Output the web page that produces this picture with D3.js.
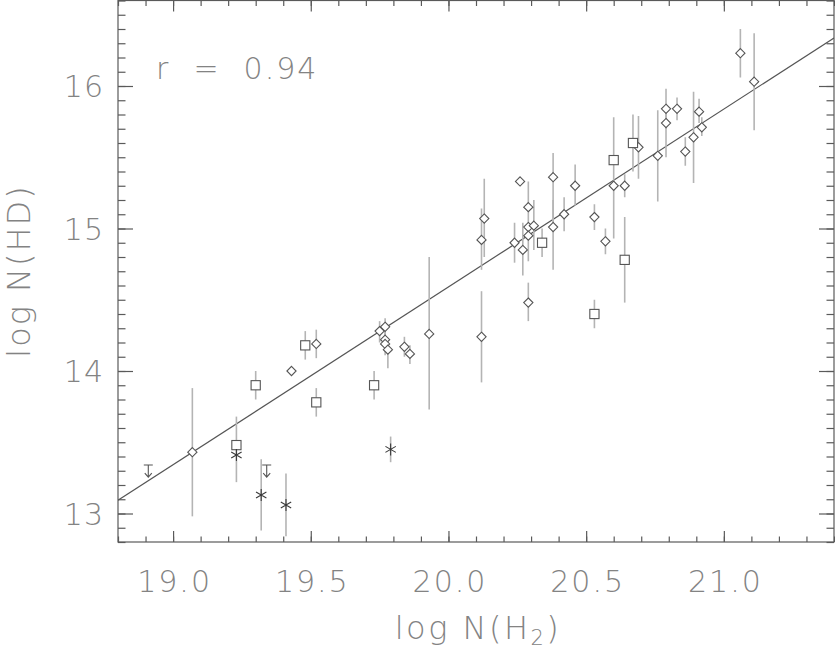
<!DOCTYPE html>
<html>
<head>
<meta charset="utf-8">
<title>log N(HD) vs log N(H2)</title>
<script src="https://cdn.jsdelivr.net/npm/d3@7"></script>
<style>
  body { margin: 0; background: #fff; }
  svg text { font-family: "DejaVu Sans", sans-serif; font-weight: 200; fill: #838383; }
</style>
</head>
<body>
<script>
// diamonds: [log N(H2), log N(HD), lower end of bar, upper end of bar]
var diamonds = [
  [19.07, 13.43, 12.98, 13.88], [19.43, 14.00, null, null], [19.52, 14.19, 14.09, 14.29],
  [19.75, 14.28, 14.20, 14.35], [19.77, 14.31, 14.18, 14.37], [19.77, 14.22, 14.11, 14.29],
  [19.77, 14.19, null, null], [19.78, 14.15, 14.02, 14.19], [19.84, 14.17, 14.10, 14.24],
  [19.86, 14.12, 14.05, 14.18], [19.93, 14.26, 13.73, 14.80], [20.12, 14.24, 13.92, 14.56],
  [20.12, 14.92, 14.71, 15.14], [20.13, 15.07, 14.80, 15.35], [20.24, 14.90, 14.76, 15.04],
  [20.26, 15.33, null, null], [20.27, 14.85, 14.67, 15.04], [20.29, 15.15, 14.77, 15.33],
  [20.29, 15.01, null, null], [20.29, 14.95, null, null], [20.31, 15.02, 14.85, 15.20],
  [20.29, 14.48, 14.35, 14.62], [20.38, 15.36, 14.99, 15.53], [20.38, 15.01, 14.71, 15.20],
  [20.42, 15.10, 14.98, 15.22], [20.46, 15.30, 15.16, 15.45], [20.53, 15.08, 14.99, 15.17],
  [20.57, 14.91, 14.82, 15.00], [20.60, 15.30, null, null], [20.64, 15.30, 15.22, 15.38],
  [20.69, 15.57, 15.35, 15.79], [20.76, 15.51, 15.19, 15.83], [20.79, 15.84, 15.70, 15.98],
  [20.79, 15.74, 15.50, 15.83], [20.83, 15.84, 15.76, 15.92], [20.86, 15.54, 15.44, 15.64],
  [20.89, 15.64, 15.32, 15.96], [20.91, 15.82, 15.74, 15.91], [20.92, 15.71, 15.65, 15.78],
  [21.06, 16.23, 16.06, 16.40], [21.11, 16.03, 15.69, 16.37]
];
var squares = [
  [19.23, 13.48, 13.22, 13.68], [19.30, 13.90, 13.80, 14.00], [19.48, 14.18, 14.08, 14.28],
  [19.52, 13.78, 13.68, 13.88], [19.73, 13.90, 13.80, 14.00], [20.34, 14.90, 14.80, 15.00],
  [20.53, 14.40, 14.30, 14.50], [20.60, 15.48, 14.93, 15.78], [20.64, 14.78, 14.48, 15.08],
  [20.67, 15.60, 15.40, 15.80]
];
var stars = [
  [19.23, 13.41, null, null], [19.32, 13.13, 12.88, 13.38],
  [19.41, 13.06, 12.84, 13.28], [19.79, 13.45, 13.36, 13.54]
];
var upperLimits = [[18.91, 13.34], [19.34, 13.34]];

var fitIntercept = -10.37, fitSlope = 1.248;
var corrLabel = "r  =  0.94";

var xDomain = [18.8, 21.4], yDomain = [12.8, 16.6];
var xMajor = [19.0, 19.5, 20.0, 20.5, 21.0];
var yMajor = [13, 14, 15, 16];
var xMinor = d3.range(188, 215).map(function(d) { return d / 10; });
var yMinor = d3.range(128, 167).map(function(d) { return d / 10; });

var W = 835, H = 649;
var margin = {top: 0.5, right: 1, bottom: 107, left: 118};
var width = W - margin.left - margin.right,
    height = H - margin.top - margin.bottom;

var svg = d3.select("body").append("svg").attr("width", W).attr("height", H);
var g = svg.append("g").attr("transform", "translate(" + margin.left + "," + margin.top + ")");

var x = d3.scaleLinear().domain(xDomain).range([0, width]);
var y = d3.scaleLinear().domain(yDomain).range([height, 0]);

// ticks on all four sides, pointing inward
function inward(axis, vals, len) {
  return axis.tickValues(vals).tickSize(len).tickFormat("").tickSizeOuter(0);
}
function addAxis(ax, tr) {
  var a = g.append("g").attr("transform", tr).call(ax);
  a.select(".domain").remove();
  a.selectAll("line").attr("stroke", "#5a5a5a").attr("stroke-width", 1.2);
}
addAxis(inward(d3.axisTop(x), xMinor, 5.5), "translate(0," + height + ")");
addAxis(inward(d3.axisTop(x), xMajor, 11), "translate(0," + height + ")");
addAxis(inward(d3.axisBottom(x), xMinor, 5.5), "translate(0,0)");
addAxis(inward(d3.axisBottom(x), xMajor, 11), "translate(0,0)");
addAxis(inward(d3.axisRight(y), yMinor, 7.5), "translate(0,0)");
addAxis(inward(d3.axisRight(y), yMajor, 15), "translate(0,0)");
addAxis(inward(d3.axisLeft(y), yMinor, 7.5), "translate(" + width + ",0)");
addAxis(inward(d3.axisLeft(y), yMajor, 15), "translate(" + width + ",0)");

g.append("rect").attr("width", width).attr("height", height)
  .attr("fill", "none").attr("stroke", "#5a5a5a").attr("stroke-width", 1.2);

// tick labels
var xl = g.append("g").attr("transform", "translate(0," + height + ")")
  .call(d3.axisBottom(x).tickValues(xMajor).tickSize(0).tickPadding(29).tickFormat(d3.format(".1f")));
xl.select(".domain").remove();
xl.selectAll("text").style("font-size", "30px").style("letter-spacing", "2px").attr("dx", 1);

var yl = g.append("g")
  .call(d3.axisLeft(y).tickValues(yMajor).tickSize(0).tickPadding(14).tickFormat(d3.format("d")));
yl.select(".domain").remove();
yl.selectAll("text").style("font-size", "30px").attr("dy", "0.36em").style("letter-spacing", "1px");

// axis titles
var xt = svg.append("text").attr("x", 478).attr("y", 639).attr("text-anchor", "middle")
  .style("font-size", "32px").style("letter-spacing", "2.5px");
xt.append("tspan").text("log N(H");
xt.append("tspan").text("2").style("font-size", "21px").attr("dy", 6);
xt.append("tspan").text(")").attr("dy", -6);

svg.append("text").attr("transform", "translate(30,271) rotate(-90)")
  .attr("text-anchor", "middle").style("font-size", "32px").style("letter-spacing", "2px")
  .text("log N(HD)");

svg.append("text").attr("x", 156).attr("y", 79).style("font-size", "30px")
  .style("white-space", "pre").style("letter-spacing", "2px").text(corrLabel);

// clip to plot box
g.append("clipPath").attr("id", "box").append("rect").attr("width", width).attr("height", height);
var plot = g.append("g").attr("clip-path", "url(#box)");

// fit line
plot.append("line")
  .attr("x1", x(xDomain[0])).attr("y1", y(fitIntercept + fitSlope * xDomain[0]))
  .attr("x2", x(xDomain[1])).attr("y2", y(fitIntercept + fitSlope * xDomain[1]))
  .attr("stroke", "#555").attr("stroke-width", 1.2);

// error bars
var all = diamonds.concat(squares, stars).filter(function(d) { return d[2] != null; });
plot.selectAll(".err").data(all).enter().append("line").attr("class", "err")
  .attr("x1", function(d) { return x(d[0]); }).attr("x2", function(d) { return x(d[0]); })
  .attr("y1", function(d) { return y(d[2]); }).attr("y2", function(d) { return y(d[3]); })
  .attr("stroke", "#b4b4b4").attr("stroke-width", 1.6);

var ink = "#555";
// diamonds
plot.selectAll(".dia").data(diamonds).enter().append("path").attr("class", "dia")
  .attr("d", function(d) {
    var cx = x(d[0]), cy = y(d[1]), r = 4.6;
    return "M" + cx + "," + (cy - r) + "L" + (cx + r) + "," + cy + "L" + cx + "," + (cy + r) + "L" + (cx - r) + "," + cy + "Z";
  })
  .attr("fill", "#fff").attr("stroke", ink).attr("stroke-width", 1.1);

// squares
plot.selectAll(".sq").data(squares).enter().append("rect").attr("class", "sq")
  .attr("x", function(d) { return x(d[0]) - 4.6; }).attr("y", function(d) { return y(d[1]) - 4.6; })
  .attr("width", 9.2).attr("height", 9.2)
  .attr("fill", "#fff").attr("stroke", ink).attr("stroke-width", 1.1);

// asterisks
plot.selectAll(".star").data(stars).enter().append("path").attr("class", "star")
  .attr("d", function(d) {
    var cx = x(d[0]), cy = y(d[1]), r = 6, s = "";
    [90, 30, -30].forEach(function(a) {
      var dx = r * Math.cos(a * Math.PI / 180), dy = r * Math.sin(a * Math.PI / 180);
      s += "M" + (cx - dx) + "," + (cy - dy) + "L" + (cx + dx) + "," + (cy + dy);
    });
    return s;
  })
  .attr("fill", "none").attr("stroke", "#3a3a3a").attr("stroke-width", 1.1);

// upper limits
plot.selectAll(".ul").data(upperLimits).enter().append("path").attr("class", "ul")
  .attr("d", function(d) {
    var cx = x(d[0]), cy = y(d[1]);
    return "M" + (cx - 4.5) + "," + cy + "L" + (cx + 4.5) + "," + cy +
      "M" + cx + "," + cy + "L" + cx + "," + (cy + 12) +
      "M" + (cx - 3.5) + "," + (cy + 8) + "L" + cx + "," + (cy + 12) + "L" + (cx + 3.5) + "," + (cy + 8);
  })
  .attr("fill", "none").attr("stroke", ink).attr("stroke-width", 1.1);
</script>
</body>
</html>
